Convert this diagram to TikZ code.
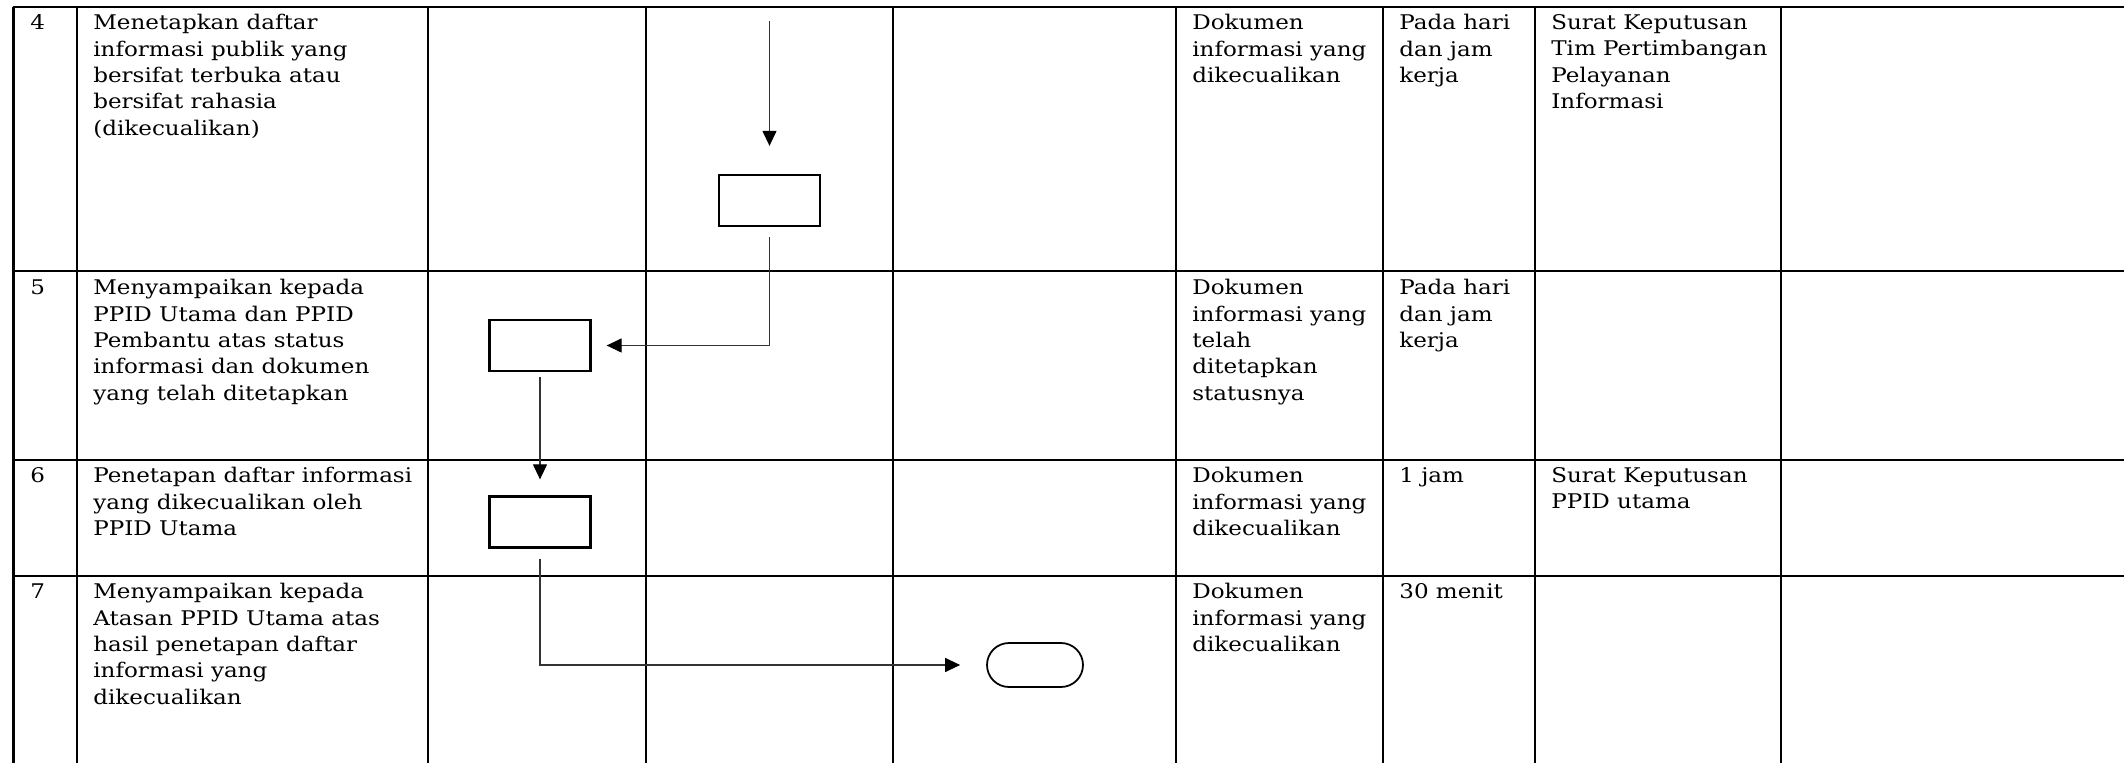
\documentclass[tikz,border=0pt]{standalone}
\usepackage{fontspec}
\setmainfont{DejaVu Serif}[FakeStretch=1.14]
\usetikzlibrary{arrows.meta, positioning, shapes.misc}

\begin{document}
\begin{tikzpicture}[x=0.02cm, y=-0.02cm,
    rule/.style={line width=1.2pt},
    stepbox/.style={draw, line width=1.3pt, minimum width=2.02cm, minimum height=1.02cm, inner sep=0pt},
    endbox/.style={draw, rounded rectangle, line width=1pt, minimum width=1.92cm, minimum height=0.88cm, inner sep=0pt},
    flow/.style={draw=black!80, line width=0.7pt, -{Triangle[length=0.3cm, width=0.28cm, color=black]}},
    txt/.style={anchor=north west, align=left, inner sep=0pt, font=\fontsize{11.5}{15}\selectfont}]
    \useasboundingbox (0,0) rectangle (2124,763);

    % Table rules
    \foreach \x in {13.5,77,428,646,893,1176,1383,1535,1781}
        \draw[rule] (\x,7) -- (\x,763);
    \foreach \y in {7,271,460,576}
        \draw[rule] (12.5,\y) -- (2124,\y);

    % Row 4
    \node[txt] (no4) at (30,14) {4};
    \node[txt] (act4) at (93,14) {Menetapkan daftar\\informasi publik yang\\bersifat terbuka atau\\bersifat rahasia\\(dikecualikan)};
    \node[txt] (doc4) at (1192,14) {Dokumen\\informasi yang\\dikecualikan};
    \node[txt] (time4) at (1399,14) {Pada hari\\dan jam\\kerja};
    \node[txt] (out4) at (1551,14) {Surat Keputusan\\Tim Pertimbangan\\Pelayanan\\Informasi};

    % Row 5
    \node[txt] (no5) at (30,279) {5};
    \node[txt] (act5) at (93,279) {Menyampaikan kepada\\PPID Utama dan PPID\\Pembantu atas status\\informasi dan dokumen\\yang telah ditetapkan};
    \node[txt] (doc5) at (1192,279) {Dokumen\\informasi yang\\telah\\ditetapkan\\statusnya};
    \node[txt] (time5) at (1399,279) {Pada hari\\dan jam\\kerja};

    % Row 6
    \node[txt] (no6) at (30,467) {6};
    \node[txt] (act6) at (93,467) {Penetapan daftar informasi\\yang dikecualikan oleh\\PPID Utama};
    \node[txt] (doc6) at (1192,467) {Dokumen\\informasi yang\\dikecualikan};
    \node[txt] (time6) at (1399,467) {1 jam};
    \node[txt] (out6) at (1551,467) {Surat Keputusan\\PPID utama};

    % Row 7
    \node[txt] (no7) at (30,583) {7};
    \node[txt] (act7) at (93,583) {Menyampaikan kepada\\Atasan PPID Utama atas\\hasil penetapan daftar\\informasi yang\\dikecualikan};
    \node[txt] (doc7) at (1192,583) {Dokumen\\informasi yang\\dikecualikan};
    \node[txt] (time7) at (1399,583) {30 menit};

    % Flow symbols
    \node[stepbox] (box4) at (769.5,200.5) {};
    \node[stepbox] (box5) at (540,345.5) {};
    \node[stepbox] (box6) at (540,522) {};
    \node[endbox] (end7) at (1035,665) {};

    % Connectors
    \coordinate (in4) at (769.5,21);
    \draw[flow, shorten >=0.56cm] (in4) -- (box4);
    \draw[flow, shorten <=0.2cm, shorten >=0.3cm] (box4) |- (box5);
    \draw[flow, shorten <=0.1cm, shorten >=0.32cm] (box5) -- (box6);
    \draw[flow, shorten <=0.2cm, shorten >=0.52cm] (box6) |- (end7);
\end{tikzpicture}
\end{document}
